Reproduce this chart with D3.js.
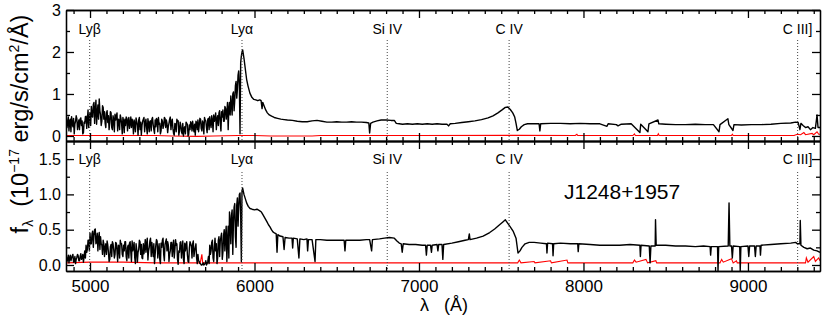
<!DOCTYPE html>
<html>
<head>
    <meta charset="utf-8">
    <title>J1248+1957 spectrum</title>
    <script src="https://cdn.jsdelivr.net/npm/d3@7"></script>
    <style>
        body { margin: 0; background: #fff; }
        svg text { font-family: "Liberation Sans", Arial, Helvetica, sans-serif; fill: #000; }
        .axis path, .axis line { stroke: #000; stroke-width: 1.3; }
        .axis text { font-size: 16px; }
        .xlab .axis text { font-size: 17px; }
        .spec { fill: none; stroke: #000; stroke-width: 1.4; stroke-linejoin: round; }
        .err { fill: none; stroke: #ff0000; stroke-width: 1.1; }
        .mark { stroke: #444; stroke-width: 1; stroke-dasharray: 1,2; }
        .mlabel { font-size: 14px; text-anchor: middle; }
    </style>
</head>
<body>
<script>
    // emission lines, observed wavelength (z ~ 3.87)
    var lineNames = ["Ly\u03b2", "Ly\u03b1", "Si IV", "C IV", "C III]"];
    var lineWaves = [4998, 5924, 6807, 7548, 9302];

    var xTicks = [5000, 6000, 7000, 8000, 9000];
    var topYTicks = [0, 1, 2, 3], topYMinor = [0.5, 1.5, 2.5];
    var botYTicks = [0, 0.5, 1.0, 1.5], botYMinor = [0.25, 0.75, 1.25];

    // Ly-alpha forest, read on a 4 A grid starting at 4856 A (20 values = 80 A per row)
    var forestStart = 4856, forestStep = 4;

    var topForest = [
        0.44,0.20,0.30,0.45,0.12,0.35,0.40,0.10,0.46,0.30,0.22,0.42,0.05,0.28,0.35,0.48,0.41,0.15,0.28,0.38,
        0.15,0.40,0.43,0.25,0.36,0.05,0.08,0.33,0.30,0.46,0.47,0.18,0.40,0.62,0.20,0.45,0.55,0.25,0.70,0.48,
        0.45,0.75,0.80,0.30,0.62,0.85,0.28,0.55,0.74,0.40,0.88,0.60,0.50,0.25,0.35,0.72,0.68,0.40,0.58,0.30,
        0.20,0.55,0.60,0.32,0.48,0.15,0.32,0.58,0.55,0.20,0.15,0.48,0.40,0.10,0.52,0.38,0.45,0.55,0.12,0.40,
        0.38,0.15,0.50,0.42,0.30,0.05,0.44,0.35,0.08,0.40,0.25,0.45,0.42,0.12,0.36,0.44,0.18,0.30,0.45,0.20,
        0.40,0.32,0.05,0.38,0.30,0.10,0.43,0.35,0.26,0.02,0.38,0.44,0.15,0.33,0.02,0.25,0.35,0.40,0.44,0.10,
        0.32,0.40,0.20,0.05,0.41,0.30,0.10,0.35,0.36,0.12,0.40,0.44,0.27,0.15,0.06,0.38,0.22,0.42,0.38,0.10,
        0.44,0.28,0.30,0.05,0.12,0.40,0.35,0.18,0.25,0.44,0.42,0.20,0.38,0.30,0.08,0.22,0.30,0.40,0.45,0.15,
        0.33,0.40,0.18,0.06,0.02,0.30,0.28,0.10,0.40,0.35,0.36,0.02,0.12,0.33,0.25,0.10,0.05,0.30,0.00,0.18,
        0.22,0.05,0.33,0.30,0.28,0.00,0.04,0.26,0.15,0.34,0.30,0.12,0.35,0.20,0.10,0.28,0.02,0.35,0.32,0.15,
        0.38,0.10,0.25,0.42,0.40,0.18,0.12,0.36,0.30,0.05,0.44,0.38,0.36,0.20,0.08,0.40,0.42,0.15,0.46,0.30,
        0.20,0.48,0.38,0.10,0.50,0.35,0.42,0.55,0.15,0.40,0.48,0.25,0.55,0.60,0.30,0.12,0.58,0.45,0.62,0.35,
        0.35,0.70,0.66,0.40,0.55,0.80,0.15,0.65,0.80,0.50,0.95,0.75,0.50,1.00,1.05,0.60,0.85,1.20,1.30,0.90,
        1.10,1.45,1.55,1.20,0.05,1.75,1.90,2.00,2.05
    ];

    var topFlux = [
        [5936,1.85],[5944,1.6],[5952,1.35],[5960,1.2],[5972,1.02],[5984,0.92],[5996,0.87],[6008,0.86],
        [6020,0.84],[6032,0.86],[6040,0.84],[6046,0.65],[6050,0.80],[6058,0.72],[6068,0.62],[6078,0.55],
        [6090,0.50],[6104,0.47],[6120,0.44],[6140,0.42],[6160,0.40],[6180,0.39],[6200,0.38],[6230,0.37],
        [6260,0.35],[6290,0.34],[6320,0.34],[6350,0.36],[6380,0.37],[6410,0.35],[6440,0.33],[6470,0.33],
        [6500,0.34],[6530,0.33],[6560,0.33],[6590,0.34],[6620,0.33],[6650,0.33],[6680,0.32],[6695,0.31],
        [6700,0.07],[6706,0.30],[6720,0.33],[6745,0.36],[6770,0.38],[6800,0.38],[6830,0.37],[6850,0.37],
        [6862,0.30],[6880,0.29],[6900,0.28],[6930,0.29],[6960,0.28],[6990,0.29],[7020,0.28],[7050,0.29],
        [7080,0.28],[7110,0.29],[7140,0.28],[7170,0.28],[7180,0.24],[7190,0.29],[7220,0.30],[7260,0.32],
        [7300,0.34],[7340,0.36],[7380,0.39],[7420,0.43],[7450,0.48],[7480,0.55],[7505,0.62],[7525,0.68],
        [7540,0.69],[7555,0.63],[7570,0.55],[7582,0.45],[7590,0.30],[7598,0.13],[7610,0.16],[7622,0.22],
        [7640,0.27],[7660,0.29],[7700,0.29],[7730,0.29],[7735,0.12],[7740,0.29],[7800,0.30],[7860,0.30],
        [7920,0.29],[7980,0.30],[8040,0.29],[8100,0.29],[8143,0.23],[8150,0.29],[8200,0.27],[8210,0.24],
        [8230,0.28],[8290,0.29],[8343,0.08],[8348,0.28],[8392,0.10],[8398,0.29],[8453,0.38],[8458,0.29],
        [8500,0.28],[8560,0.27],[8620,0.27],[8680,0.28],[8740,0.27],[8790,0.27],[8824,0.10],[8830,0.27],
        [8878,0.41],[8884,0.27],[8909,0.13],[8915,0.27],[8960,0.26],[9020,0.27],[9080,0.27],[9140,0.28],
        [9200,0.30],[9260,0.31],[9290,0.33],[9305,0.32],[9316,0.15],[9322,0.30],[9335,0.25],[9350,0.20],
        [9365,0.22],[9380,0.15],[9395,0.20],[9410,0.18],[9420,0.50],[9426,0.20],[9438,0.20]
    ];

    var topError = [
        [4854,0.01],[5400,0.01],[5500,0.0],[5650,-0.01],[5750,0.0],[5900,0.01],[6000,0.01],[6100,0.0],
        [6350,0.0],[6400,0.01],[7000,0.01],[7600,0.015],[7950,0.01],[7960,0.04],[7965,0.01],[8300,0.01],
        [8310,0.05],[8315,0.01],[8450,0.01],[8455,0.05],[8460,0.01],[8900,0.01],[8905,0.04],[8910,0.01],
        [9280,0.01],[9300,0.04],[9320,0.03],[9340,0.08],[9350,0.03],[9390,0.06],[9400,0.03],[9420,0.10],
        [9430,0.04],[9438,0.04]
    ];

    var botForest = [
        0.12,0.05,0.08,0.14,0.03,0.10,0.14,0.06,0.10,0.13,0.15,0.04,0.05,0.12,0.02,0.08,0.11,0.15,0.13,0.06,
        0.06,0.12,0.16,0.08,0.09,0.15,0.04,0.12,0.20,0.10,0.28,0.18,0.22,0.35,0.35,0.20,0.45,0.30,0.30,0.44,
        0.48,0.25,0.42,0.50,0.51,0.30,0.33,0.45,0.20,0.38,0.46,0.22,0.40,0.30,0.28,0.15,0.35,0.30,0.12,0.25,
        0.30,0.15,0.34,0.28,0.18,0.05,0.08,0.26,0.29,0.12,0.33,0.30,0.22,0.10,0.15,0.32,0.31,0.20,0.05,0.28,
        0.27,0.10,0.35,0.30,0.30,0.15,0.12,0.28,0.20,0.33,0.33,0.12,0.06,0.25,0.28,0.10,0.31,0.33,0.18,0.05,
        0.34,0.20,0.25,0.32,0.10,0.02,0.30,0.22,0.04,0.18,0.22,0.35,0.33,0.15,0.29,0.10,0.09,0.30,0.16,0.25,
        0.36,0.18,0.30,0.38,0.07,0.20,0.25,0.34,0.38,0.12,0.32,0.22,0.12,0.30,0.02,0.15,0.28,0.36,0.34,0.10,
        0.22,0.30,0.08,0.02,0.31,0.25,0.35,0.38,0.15,0.06,0.29,0.33,0.37,0.20,0.33,0.28,0.05,0.15,0.20,0.32,
        0.32,0.12,0.26,0.35,0.10,0.22,0.36,0.28,0.30,0.08,0.01,0.20,0.18,0.32,0.33,0.10,0.24,0.34,0.08,0.02,
        0.31,0.20,0.28,0.33,0.15,0.05,0.04,0.24,0.33,0.30,0.27,0.10,0.30,0.34,0.12,0.20,0.25,0.30,0.10,0.02,
        0.15,0.06,0.05,0.02,0.02,0.00,0.00,0.01,0.03,0.00,0.01,0.02,0.06,0.00,0.02,0.05,0.12,0.02,0.28,0.15,
        0.20,0.32,0.35,0.10,0.05,0.25,0.38,0.20,0.30,0.02,0.10,0.35,0.40,0.12,0.34,0.40,0.45,0.08,0.18,0.42,
        0.50,0.20,0.42,0.55,0.05,0.35,0.55,0.10,0.75,0.62,0.30,0.70,0.78,0.15,0.60,0.82,0.87,0.40,0.25,0.85,
        0.95,0.55,0.82,1.00,1.02,0.70,0.05,1.05,1.09
    ];

    var botFlux = [
        [5936,1.0],[5944,0.94],[5952,0.88],[5962,0.83],[5973,0.80],[5985,0.79],[6000,0.78],[6015,0.79],
        [6030,0.77],[6042,0.75],[6052,0.71],[6064,0.66],[6076,0.61],[6085,0.57],[6094,0.54],[6103,0.50],
        [6112,0.47],[6124,0.45],[6132,0.44],[6137,0.18],[6142,0.43],[6155,0.41],[6173,0.40],[6180,0.22],
        [6186,0.39],[6210,0.38],[6228,0.38],[6232,0.24],[6236,0.38],[6260,0.37],[6270,0.10],[6276,0.37],
        [6300,0.36],[6319,0.37],[6323,0.20],[6328,0.36],[6350,0.36],[6368,0.05],[6373,0.36],[6400,0.36],
        [6440,0.35],[6480,0.35],[6520,0.35],[6545,0.35],[6550,0.20],[6555,0.35],[6600,0.35],[6640,0.35],
        [6680,0.36],[6700,0.36],[6712,0.20],[6717,0.36],[6760,0.37],[6790,0.38],[6820,0.39],[6850,0.38],
        [6866,0.34],[6880,0.31],[6892,0.30],[6898,0.18],[6904,0.30],[6940,0.29],[6980,0.29],[7020,0.28],
        [7040,0.28],[7045,0.14],[7050,0.28],[7070,0.28],[7076,0.18],[7080,0.28],[7110,0.29],[7115,0.20],
        [7120,0.29],[7140,0.29],[7145,0.08],[7150,0.29],[7200,0.31],[7240,0.33],[7280,0.35],[7300,0.36],
        [7306,0.44],[7310,0.36],[7350,0.38],[7390,0.41],[7430,0.46],[7460,0.51],[7490,0.57],[7510,0.61],
        [7525,0.64],[7540,0.59],[7555,0.54],[7572,0.48],[7590,0.38],[7602,0.17],[7614,0.20],[7626,0.25],
        [7645,0.30],[7670,0.32],[7700,0.32],[7740,0.31],[7775,0.30],[7778,0.17],[7782,0.31],[7812,0.30],
        [7815,0.13],[7819,0.30],[7860,0.31],[7920,0.30],[7965,0.30],[7968,0.19],[7972,0.30],[8040,0.29],
        [8100,0.28],[8160,0.28],[8220,0.28],[8283,0.29],[8343,0.28],[8346,0.12],[8350,0.28],[8400,0.27],
        [8405,0.03],[8410,0.27],[8436,0.27],[8438,0.64],[8442,0.28],[8500,0.28],[8560,0.27],[8620,0.27],
        [8680,0.26],[8730,0.27],[8770,0.26],[8773,0.14],[8777,0.26],[8815,0.26],[8818,-0.08],[8822,0.26],
        [8880,0.27],[8885,0.88],[8890,0.27],[8900,0.27],[8905,0.10],[8910,0.27],[8950,0.26],[8953,-0.08],
        [8957,0.26],[9000,0.27],[9005,0.12],[9010,0.27],[9040,0.27],[9045,0.12],[9050,0.27],[9073,0.27],
        [9076,0.14],[9080,0.28],[9140,0.29],[9200,0.30],[9260,0.31],[9290,0.32],[9300,0.30],[9316,0.30],
        [9318,0.63],[9322,0.28],[9340,0.25],[9360,0.23],[9380,0.24],[9400,0.21],[9420,0.20],[9438,0.18]
    ];

    var botError = [
        [4854,0.03],[5000,0.04],[5200,0.04],[5400,0.03],[5670,0.03],[5680,0.15],[5685,0.03],[5900,0.03],
        [7500,0.03],[7600,0.03],[7610,0.07],[7620,0.03],[7700,0.05],[7705,0.03],[7800,0.06],[7805,0.03],
        [7900,0.07],[7905,0.03],[8100,0.03],[8300,0.03],[8310,0.07],[8320,0.04],[8380,0.08],[8390,0.03],
        [8440,0.06],[8445,0.03],[8830,0.03],[8840,0.08],[8850,0.04],[8900,0.09],[8910,0.03],[8930,0.06],
        [8935,0.03],[9350,0.03],[9355,0.10],[9365,0.04],[9400,0.12],[9410,0.05],[9430,0.10],[9438,0.06]
    ];

    var width = 830, height = 320,
        left = 66, right = 820;

    var svg = d3.select("body").append("svg")
            .attr("width", width)
            .attr("height", height);

    var x = d3.scaleLinear().domain([4854, 9438]).range([left, right]);

    var xMinor = d3.range(4900, 9401, 100).filter(function (d) { return d % 1000 !== 0; });

    function withForest(forest, rest) {
        var pts = forest.map(function (f, i) { return [forestStart + i * forestStep, f]; });
        return pts.concat(rest);
    }

    function drawPanel(p) {
        var y = d3.scaleLinear().domain(p.yDomain).range([p.bottom, p.top]);
        var g = svg.append("g").attr("class", p.cls);

        g.append("defs").append("clipPath")
                .attr("id", p.cls + "-clip")
                .append("rect")
                .attr("x", left).attr("y", p.top)
                .attr("width", right - left).attr("height", p.bottom - p.top);

        var line = d3.line()
                .x(function (d) { return x(d[0]); })
                .y(function (d) { return y(d[1]); });

        var body = g.append("g").attr("clip-path", "url(#" + p.cls + "-clip)");

        body.append("path").attr("class", "err").attr("d", line(p.error));
        body.append("path").attr("class", "spec").attr("d", line(p.flux));

        // emission line markers
        lineWaves.forEach(function (w, i) {
            g.append("line").attr("class", "mark")
                    .attr("x1", x(w)).attr("x2", x(w))
                    .attr("y1", p.markTop).attr("y2", p.bottom);
            g.append("text").attr("class", "mlabel")
                    .attr("x", x(w)).attr("y", p.labelY)
                    .text(lineNames[i]);
        });

        // axes, ticks pointing inwards on all four sides
        var xg = g.append("g").attr("class", p.xLabels ? "xlab" : "");
        xg.append("g").attr("class", "axis").attr("transform", "translate(0," + p.bottom + ")")
                .call(d3.axisBottom(x).tickValues(xTicks).tickSize(-8).tickSizeOuter(0).tickPadding(9)
                        .tickFormat(p.xLabels ? d3.format("d") : ""));
        xg.append("g").attr("class", "axis").attr("transform", "translate(0," + p.bottom + ")")
                .call(d3.axisBottom(x).tickValues(xMinor).tickSize(-4).tickSizeOuter(0).tickFormat(""));
        xg.append("g").attr("class", "axis").attr("transform", "translate(0," + p.top + ")")
                .call(d3.axisTop(x).tickValues(xTicks).tickSize(-8).tickSizeOuter(0).tickFormat(""));
        xg.append("g").attr("class", "axis").attr("transform", "translate(0," + p.top + ")")
                .call(d3.axisTop(x).tickValues(xMinor).tickSize(-4).tickSizeOuter(0).tickFormat(""));

        g.append("g").attr("class", "axis").attr("transform", "translate(" + left + ",0)")
                .call(d3.axisLeft(y).tickValues(p.yTicks).tickSize(-8).tickSizeOuter(0).tickPadding(5)
                        .tickFormat(d3.format(p.yFormat)));
        g.append("g").attr("class", "axis").attr("transform", "translate(" + left + ",0)")
                .call(d3.axisLeft(y).tickValues(p.yMinor).tickSize(-4).tickSizeOuter(0).tickFormat(""));
        g.append("g").attr("class", "axis").attr("transform", "translate(" + right + ",0)")
                .call(d3.axisRight(y).tickValues(p.yTicks).tickSize(-8).tickSizeOuter(0).tickFormat(""));
        g.append("g").attr("class", "axis").attr("transform", "translate(" + right + ",0)")
                .call(d3.axisRight(y).tickValues(p.yMinor).tickSize(-4).tickSizeOuter(0).tickFormat(""));
    }

    drawPanel({
        cls: "toppanel", top: 10, bottom: 141, yDomain: [-0.12, 3],
        yTicks: topYTicks, yMinor: topYMinor, yFormat: "d",
        flux: withForest(topForest, topFlux), error: topError,
        markTop: 40, labelY: 34, xLabels: false
    });

    drawPanel({
        cls: "botpanel", top: 141, bottom: 271, yDomain: [-0.085, 1.756],
        yTicks: botYTicks, yMinor: botYMinor, yFormat: ".1f",
        flux: withForest(botForest, botFlux), error: botError,
        markTop: 172, labelY: 164, xLabels: true
    });

    svg.append("text")
            .attr("x", 564).attr("y", 199)
            .style("font-size", "21px")
            .text("J1248+1957");

    // axis titles
    svg.append("text")
            .attr("x", 444).attr("y", 311)
            .attr("text-anchor", "middle")
            .style("font-size", "18px")
            .text("\u03bb\u00a0\u00a0\u00a0(\u00c5)");

    var yt = svg.append("text")
            .attr("transform", "translate(28,124) rotate(-90)")
            .attr("text-anchor", "middle")
            .style("font-size", "23.5px");
    yt.append("tspan").text("f");
    yt.append("tspan").attr("dy", 5).style("font-size", "14px").text("\u03bb");
    yt.append("tspan").attr("dy", -5).text("\u00a0\u00a0(10");
    yt.append("tspan").attr("dy", -9).style("font-size", "14px").text("\u221217");
    yt.append("tspan").attr("dy", 9).text(" erg/s/cm");
    yt.append("tspan").attr("dy", -9).style("font-size", "14px").text("2");
    yt.append("tspan").attr("dy", 9).text("/\u00c5)");
</script>
</body>
</html>
